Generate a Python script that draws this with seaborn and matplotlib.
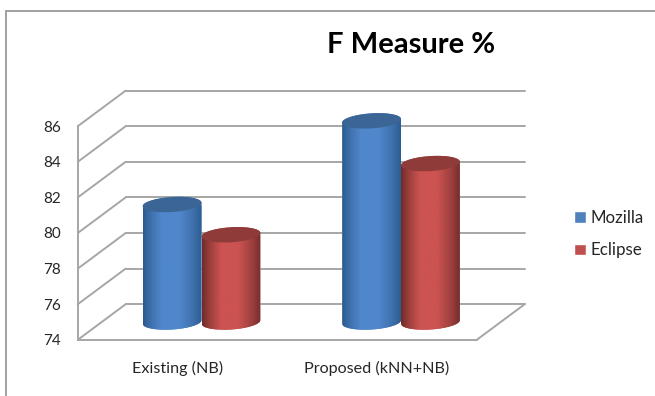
import numpy as np
import pandas as pd
import seaborn as sns
import matplotlib
matplotlib.use("Agg")
import matplotlib.pyplot as plt
from matplotlib.lines import Line2D
from matplotlib.path import Path
from matplotlib.patches import PathPatch
from matplotlib.colors import LinearSegmentedColormap

# Chart data
categories = ["Existing (NB)", "Proposed (kNN+NB)"]
series_names = ["Mozilla", "Eclipse"]
mozilla_values = [80.6, 85.3]
eclipse_values = [78.9, 82.9]
axis_values = [74, 76, 78, 80, 82, 84, 86]

# Series colours: (edge shade, body, lid)
palette = {"Mozilla": "#4F81BD", "Eclipse": "#C0504D"}
edge_shades = {"Mozilla": "#2C5A8E", "Eclipse": "#702C2A"}
body_shades = {"Mozilla": "#5087CC", "Eclipse": "#CB5351"}
lid_shades = {"Mozilla": "#3A6595", "Eclipse": "#8E3B39"}

GRID = "#A6A6A6"
TEXT = "#262626"

sns.set_theme(style="white")
plt.rcParams["font.family"] = ["Lato", "DejaVu Sans"]

W, H = 655, 396
fig = plt.figure(figsize=(W / 100, H / 100), dpi=100, facecolor="white")

# The axes area: plane of the cylinders runs through the middle of the 3-D box
left_px, right_px, top_px, bottom_px = 66, 540, 60, 355
ax = fig.add_axes([left_px / W, 1 - bottom_px / H,
                   (right_px - left_px) / W, (bottom_px - top_px) / H])
px_per_cat = 199.5
px_per_val = 17.8
x0_px, v0_px = 201.5, 322.0
xlim = ((left_px - x0_px) / px_per_cat, (right_px - x0_px) / px_per_cat)
ylim = (74 + (v0_px - bottom_px) / px_per_val, 74 + (v0_px - top_px) / px_per_val)

df = pd.DataFrame({
    "category": categories * 2,
    "series": [series_names[0]] * 2 + [series_names[1]] * 2,
    "value": mozilla_values + eclipse_values,
})
sns.barplot(data=df, x="category", y="value", hue="series", palette=palette,
            width=0.59, gap=0, saturation=1, ax=ax, zorder=3)

# Box geometry: half depth offsets in data units
dx, dv = 0.12, 1.0
box_l, box_r = -0.5, 1.5
low, high = axis_values[0], axis_values[-1]
line_kw = dict(color=GRID, lw=1.4, zorder=1, solid_capstyle="round")
for v in axis_values:
    # back wall line and side wall diagonal
    ax.plot([box_l + dx, box_r + dx], [v + dv, v + dv], **line_kw)
    ax.plot([box_l - dx, box_l + dx], [v - dv, v + dv], **line_kw)
ax.plot([box_l - dx, box_l - dx], [low - dv, high - dv], **line_kw)
ax.plot([box_l - dx, box_r - dx], [low - dv, low - dv], **line_kw)
ax.plot([box_r - dx, box_r + dx], [low - dv, low + dv], **line_kw)

# Turn each flat bar into a shaded cylinder
ry = 7.5 / px_per_val
tilt = 1.8 / px_per_val
shade_pos = [0.0, 0.12, 0.32, 0.62, 0.85, 1.0]
shade_mix = [0.0, 0.45, 1.0, 1.0, 0.5, 0.05]


def arc(xc, yc, rx, t0, t1):
    t = np.linspace(t0, t1, 60)
    return np.column_stack([xc + rx * np.cos(t), yc + ry * np.sin(t) + tilt * np.cos(t)])


containers = list(ax.containers)
for name, container in zip(series_names, containers):
    cmap = LinearSegmentedColormap.from_list(
        name, [edge_shades[name], body_shades[name]])
    for bar in container:
        x, w, top = bar.get_x(), bar.get_width(), bar.get_height()
        xc, rx = x + w / 2, w / 2
        bottom_arc = arc(xc, low, rx, np.pi, 2 * np.pi)
        top_arc = arc(xc, top, rx, 0, np.pi)
        verts = np.vstack([bottom_arc, top_arc, bottom_arc[:1]])
        body = PathPatch(Path(verts, closed=True), transform=ax.transData,
                         fc="none", ec="none")
        ax.add_patch(body)
        bar.set_clip_path(body)
        grad = np.interp(np.linspace(0, 1, 120), shade_pos, shade_mix)[None, :]
        img = ax.imshow(grad, extent=(x, x + w, low - 1, top + 1), cmap=cmap,
                        vmin=0, vmax=1, aspect="auto", zorder=3.5)
        img.set_clip_path(body)
        lid = arc(xc, top, rx, 0, 2 * np.pi)
        ax.fill(lid[:, 0], lid[:, 1], color=lid_shades[name], lw=0, zorder=3.6)

ax.set_xlim(xlim)
ax.set_ylim(ylim)
ax.set_xlabel("")
ax.set_ylabel("")
sns.despine(ax=ax, left=True, bottom=True)
ax.patch.set_alpha(0)

# Labels belong to the front edge of the box
ax.set_yticks([v - dv for v in axis_values], [str(v) for v in axis_values])
ax.set_xticks([i - dx for i in range(len(categories))], categories)
ax.tick_params(axis="both", length=0, colors=TEXT)
ax.tick_params(axis="y", pad=3.5, labelsize=11)
ax.tick_params(axis="x", pad=4, labelsize=11.6)

handles, labels = ax.get_legend_handles_labels()
ax.legend(handles, labels, loc="center left", frameon=False, fontsize=12.2,
          bbox_to_anchor=(566 / W, 1 - 234 / H), bbox_transform=fig.transFigure,
          handlelength=0.7, handleheight=0.7, handletextpad=0.22,
          labelspacing=1.0, borderpad=0, labelcolor=TEXT)

fig.text(411 / W, 1 - 45 / H, "F Measure %", ha="center", va="center",
         fontsize=21, fontweight="bold", color="black")

# Outer chart border
for xs, ys in [((5.5, 5.5), (H, 10.5)), ((5.5, W), (10.5, 10.5))]:
    fig.add_artist(Line2D([x / W for x in xs], [1 - y / H for y in ys],
                          color="#A0A0A0", lw=1.4))

fig.savefig("out.png", dpi=100)
